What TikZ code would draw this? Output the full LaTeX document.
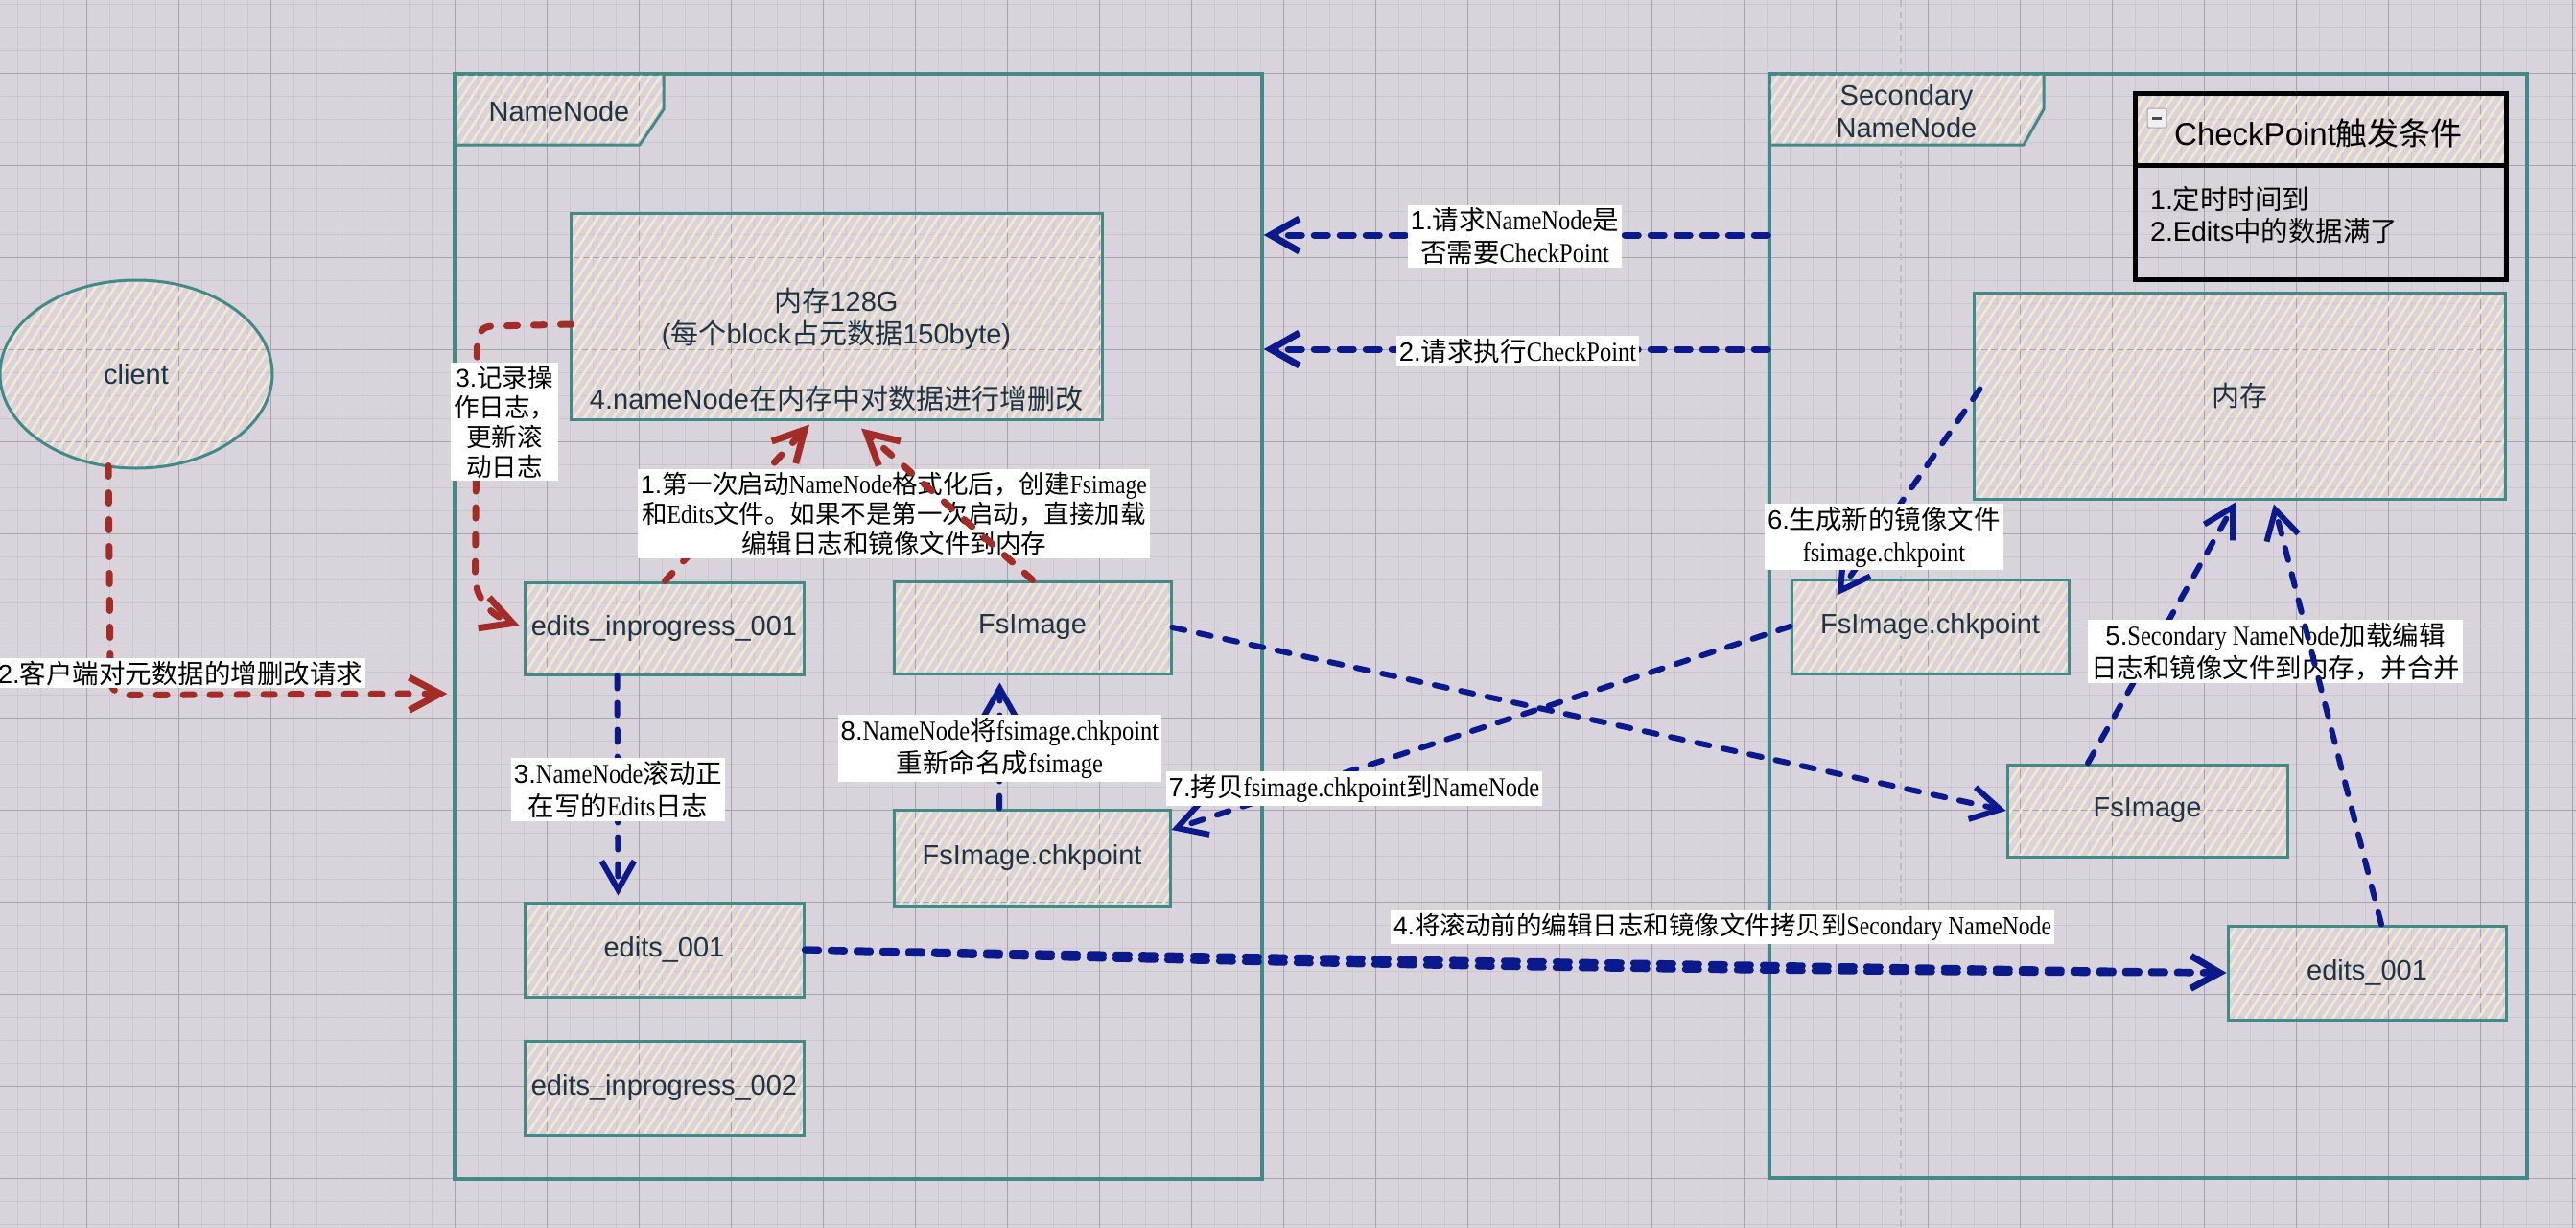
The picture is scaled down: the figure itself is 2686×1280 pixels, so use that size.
\documentclass[tikz,border=0pt]{standalone}
\usepackage{fontspec}
\setmainfont{Liberation Serif}
\setsansfont{Liberation Sans}
\newfontfamily\cjkfont{Noto Sans CJK SC}
\newfontfamily\lblserif[FakeStretch=0.86]{Liberation Serif}
\usetikzlibrary{shapes.geometric,arrows.meta,patterns.meta,calc}

\definecolor{bgc}{RGB}{217,211,219}
\definecolor{minorc}{RGB}{206,199,208}
\definecolor{majorc}{RGB}{168,162,170}
\definecolor{hatchc}{RGB}{246,232,205}
\definecolor{tealc}{RGB}{66,138,136}
\definecolor{redc}{RGB}{163,45,38}
\definecolor{bluec}{RGB}{10,26,140}
\definecolor{txtc}{RGB}{30,52,66}
\definecolor{faintc}{RGB}{192,186,194}

% automatic switching between Latin and CJK fonts
\def\curlatin{}
\def\curcjk{\cjkfont}
\def\curnum{}
\XeTeXinterchartokenstate=1
\newXeTeXintercharclass\CJKcls
\newcount\cjkcnt
\def\setcjkrange#1#2{\cjkcnt=#1\relax\loop\XeTeXcharclass\cjkcnt=\CJKcls\advance\cjkcnt by 1\relax\ifnum\cjkcnt<#2\relax\repeat}
\setcjkrange{"4E00}{"A000}
\setcjkrange{"3000}{"3040}
\setcjkrange{"FF00}{"FFF0}
\XeTeXinterchartoks 0 \CJKcls = {\curcjk}
\XeTeXinterchartoks 4095 \CJKcls = {\curcjk}
\XeTeXinterchartoks \CJKcls 0 = {\curlatin}
\XeTeXinterchartoks 4095 0 = {\curlatin}

\newcommand\setfonts[4]{%
  \def\curcjk{\cjkfont\fontsize{#1}{#4}\selectfont}%
  \def\curlatin{#2\fontsize{#3}{#4}\selectfont}%
  \def\curnum{\sffamily\fontsize{#1}{#4}\selectfont}%
  \curlatin}
\newcommand\nm[1]{{\let\curlatin\curnum\curnum #1}}

\tikzset{
  hatch/.style={pattern={Lines[angle=57,distance=8.5pt,line width=2.6pt]},pattern color=hatchc},
  outerframe/.style={draw=tealc,line width=3.5pt,inner sep=0pt},
  tabshape/.style={draw=tealc,line width=3pt,line join=round,hatch},
  box/.style={draw=tealc,line width=3pt,hatch,inner sep=0pt,btxt},
  btxt/.style={text=txtc,font=\setfonts{29}{\sffamily}{29}{34},align=center,inner sep=0pt},
  ckbox/.style={draw=black,line width=5pt,inner sep=0pt},
  lbl/.style={fill=white,text=black,inner xsep=3pt,inner ysep=3pt,align=center,
    font=\setfonts{27.5}{\lblserif}{28.5}{34}},
  lbls/.style={lbl,font=\setfonts{26.5}{\lblserif}{27.5}{31}},
  redarr/.style={draw=redc,line width=7pt,line cap=round,line join=round,
    dash pattern=on 11pt off 17pt,-{Straight Barb[length=32pt 0 0,width=34pt 0 0]}},
  bluearr/.style={draw=bluec,line width=6pt,line cap=round,line join=round,
    dash pattern=on 13pt off 15pt,-{Straight Barb[length=30pt 0 0,width=34pt 0 0]}},
  bluethick/.style={bluearr,line width=7pt,dash pattern=on 14pt off 13pt}
}

\begin{document}
\begin{tikzpicture}[x=1pt,y=-1pt]
\useasboundingbox (0,0) rectangle (2686,1280);
\fill[bgc] (0,0) rectangle (2686,1280);
% grid
\foreach \i in {0,...,111} \draw[minorc,line width=1.3pt] ({18.7+24*\i},0) -- ++(0,1280);
\foreach \i in {0,...,53} \draw[minorc,line width=1.3pt] (0,{4.3+24*\i}) -- ++(2686,0);
\foreach \i in {1,...,28} \draw[majorc,line width=0.9pt] ({-5.3+96*\i},0) -- ++(0,1280);
\foreach \i in {1,...,13} \draw[majorc,line width=0.9pt] (0,{-19.7+96*\i}) -- ++(2686,0);
\draw[faintc,line width=1.2pt,dash pattern=on 7pt off 5pt] (1982,0) -- (1982,1280);

% frames
\node[outerframe,minimum width=842pt,minimum height=1152pt] (nnframe) at (895,653) {};
\node[outerframe,minimum width=790pt,minimum height=1151pt] (snnframe) at (2240,652.5) {};
\draw[tabshape] (475,77) -- (692,77) -- (692,114) -- (667,151) -- (475,151) -- cycle;
\node[btxt] (nnlabel) at (583,116) {NameNode};
\draw[tabshape] (1845,77) -- (2131,77) -- (2131,114) -- (2110,151) -- (1845,151) -- cycle;
\node[btxt] (snnlabel) at (1988,116) {Secondary\\NameNode};

% client
\node[ellipse,draw=tealc,line width=3pt,hatch,minimum width=284pt,minimum height=196pt,inner sep=0pt,btxt] (client) at (142,390) {client};

% NameNode boxes
\node[box,minimum width=554pt,minimum height=215pt] (nnmem) at (872,329.5) {};
\node[btxt] (nnmemtxt) at (872,365) {内存128G\\(每个block占元数据150byte)\\[34pt]4.nameNode在内存中对数据进行增删改};
\node[box,minimum width=291pt,minimum height=96pt] (einp1) at (692.5,655) {edits\_inprogress\_001};
\node[box,minimum width=289pt,minimum height=96pt] (fsimg) at (1076.5,654) {FsImage};
\node[box,minimum width=288pt,minimum height=100pt] (fsckpt) at (1076,894) {FsImage.chkpoint};
\node[box,minimum width=291pt,minimum height=98pt] (edits1) at (692.5,990) {edits\_001};
\node[box,minimum width=291pt,minimum height=98pt] (einp2) at (692.5,1134) {edits\_inprogress\_002};

% Secondary NameNode boxes
\node[box,minimum width=554pt,minimum height=215pt] (smem) at (2335,412.5) {内存};
\node[box,minimum width=289pt,minimum height=98pt] (sfsck) at (2012.5,653) {FsImage.chkpoint};
\node[box,minimum width=292pt,minimum height=96pt] (sfsimg) at (2239,845) {FsImage};
\node[box,minimum width=290pt,minimum height=98pt] (sedits) at (2468,1014) {edits\_001};

% CheckPoint box
\node[ckbox,hatch,minimum width=387pt,minimum height=75pt] (ckhead) at (2419.5,134.5) {};
\node[ckbox,minimum width=387pt,minimum height=119pt] (ckbody) at (2419.5,231.5) {};
\node[draw=gray!70,fill=gray!12,rounded corners=2pt,minimum size=20pt,inner sep=0pt,line width=1pt] (ckicon) at (2249,123) {};
\draw[line width=3pt,black!70] ($(ckicon.center)+(-5,0)$) -- ($(ckicon.center)+(5,0)$);
\node[anchor=west,text=black,inner sep=0pt,font=\setfonts{33}{\sffamily}{33}{40}] (cktitle) at (2267,139) {CheckPoint触发条件};
\node[anchor=west,align=left,text=black,inner sep=0pt,font=\setfonts{28.5}{\sffamily}{28.5}{33}] (ckbodytxt) at (2242,224) {1.定时时间到\\2.Edits中的数据满了};

% arrows (under labels)
\draw[redarr] ($(client.south)+(-29,-4)$) -- ++(2,224) .. controls +(1,10) and +(-12,0) .. ++(20,15) -- ($(nnframe.west |- 0,723)+(-6,0)$);
\draw[redarr] ($(nnmem.west)+(2,8.5)$) -- ++(-82,2) .. controls +(-12,0) and +(1,-14) .. ++(-16,22) -- ++(-2,238) .. controls +(0,25) and +(-28,-10) .. ($(einp1.west)+(-4,-3)$);
\draw[redarr] ($(einp1.north)+(1,0)$) -- ($(nnmem.south)+(-28,4)$);

\draw[bluethick] (snnframe.west |- 0,245) -- (nnframe.east |- 0,245);
\draw[bluethick] (snnframe.west |- 0,364) -- (nnframe.east |- 0,364);
\draw[bluearr] ($(einp1.south)+(-49,0)$) -- ($(edits1.north)+(-48,-6)$);
\draw[bluearr] ($(fsckpt.north)+(-34,0)$) -- ($(fsimg.south)+(-34,8)$);
\draw[bluearr] (fsimg.east) -- (sfsimg.west);
\draw[bluearr] (sfsck.west) -- ($(fsckpt.east)+(0,-29)$);
\draw[bluethick] (edits1.east) -- (sedits.west);
\draw[bluethick,-,shorten >=10pt] (edits1.east) .. controls +(300,10) and +(-600,0) .. (sedits.west);
\draw[bluearr] ($(smem.west)+(8,-7)$) -- ($(sfsck.north)+(-97,18)$);
\draw[bluearr] ($(sfsimg.north)+(-62,0)$) -- ($(smem.south)+(-4,2)$);

% labels
\node[lbl] (lclient) at (188,701.5) {\nm{2.}客户端对元数据的增删改请求};
\node[lbls] (lrec) at (526,439.5) {\nm{3.}记录操\\作日志，\\更新滚\\动日志};
\node[lbls] (lfmt) at (932,535.5) {\nm{1.}第一次启动NameNode格式化后，创建Fsimage\\和Edits文件。如果不是第一次启动，直接加载\\编辑日志和镜像文件到内存};
\node[lbl] (lroll) at (644.5,823) {\nm{3.}NameNode滚动正\\在写的Edits日志};
\node[lbl] (lren) at (1042.5,780) {\nm{8.}NameNode将fsimage.chkpoint\\重新命名成fsimage};
\node[lbl] (lcopy) at (1412,822) {\nm{7.}拷贝fsimage.chkpoint到NameNode};
\node[lbls] (ledits) at (1796,966.5) {\nm{4.}将滚动前的编辑日志和镜像文件拷贝到Secondary NameNode};
\node[lbl] (lask) at (1579.5,246.5) {\nm{1.}请求NameNode是\\否需要CheckPoint};
\node[lbl] (lexec) at (1582.5,366) {\nm{2.}请求执行CheckPoint};
\node[lbl] (lgen) at (1964.5,559.5) {\nm{6.}生成新的镜像文件\\fsimage.chkpoint};
\node[lbl] (lmerge) at (2372.5,679) {\nm{5.}Secondary NameNode加载编辑\\日志和镜像文件到内存，并合并};

% arrows drawn over labels
\draw[redarr] (fsimg.north) -- ($(nnmem.south)+(26,8)$);
\draw[bluearr] ($(sedits.north)+(15,0)$) -- ($(smem.south)+(36,4)$);
\end{tikzpicture}
\end{document}
